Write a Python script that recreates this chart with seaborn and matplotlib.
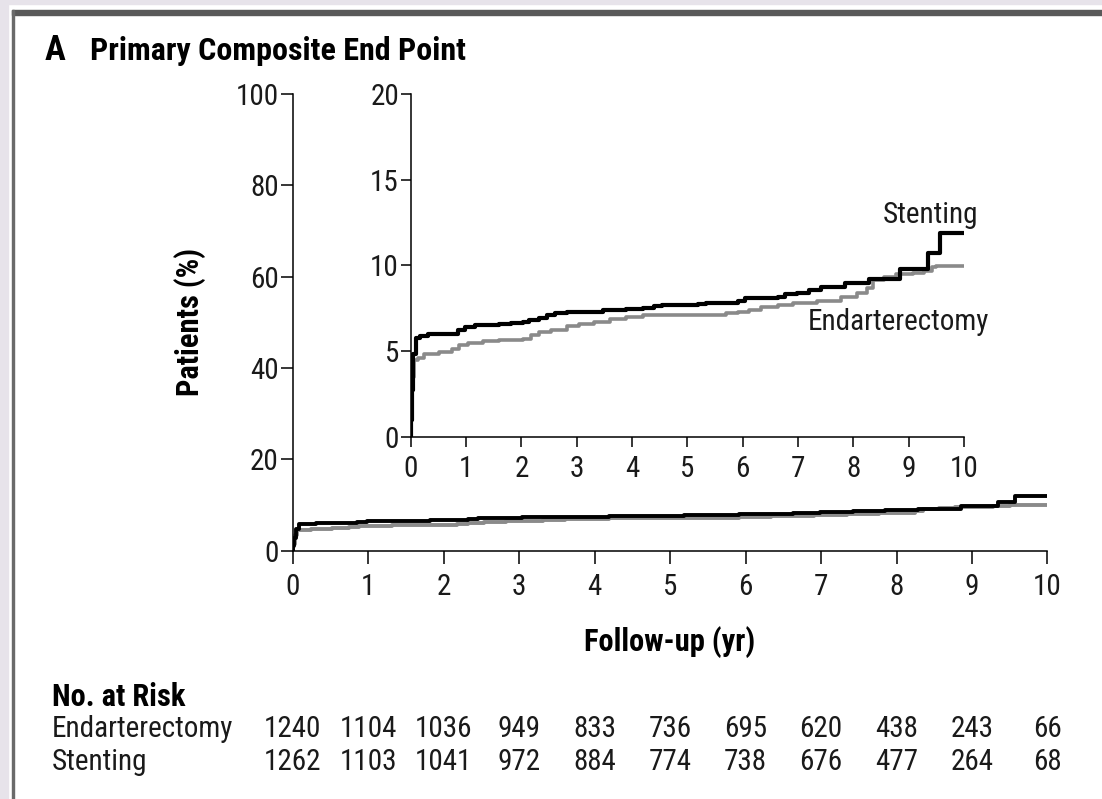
import matplotlib
matplotlib.use("Agg")
import matplotlib.pyplot as plt
import matplotlib.font_manager as fm
from matplotlib.patches import Rectangle
from matplotlib.transforms import blended_transform_factory
import seaborn as sns
import pandas as pd

# ---------------- data ----------------
stent_t = [0, 0.005, 0.02, 0.05, 0.09, 0.17, 0.31, 0.85, 0.99, 1.17,
           1.6, 1.82, 2.03, 2.14, 2.32, 2.46, 2.6, 2.82, 3.04, 3.47,
           3.9, 4.19, 4.4, 4.54, 5.19, 5.33, 5.91, 6.05, 6.63, 6.77,
           6.98, 7.2, 7.42, 7.85, 8.28, 8.85, 9.35, 9.57, 10.0]
stent_v = [0, 1.0, 2.7, 4.8, 5.75, 5.86, 6.0, 6.25, 6.4, 6.5,
           6.56, 6.64, 6.7, 6.8, 6.93, 7.09, 7.19, 7.25, 7.29, 7.38,
           7.44, 7.52, 7.62, 7.68, 7.73, 7.81, 7.93, 8.07, 8.16, 8.3,
           8.4, 8.55, 8.71, 8.95, 9.2, 9.8, 10.7, 11.9, 11.9]

endart_t = [0, 0.01, 0.03, 0.06, 0.13, 0.24, 0.52, 0.74, 0.88, 1.03,
            1.31, 1.6, 2.03, 2.18, 2.32, 2.53, 2.82, 3.04, 3.32, 3.61,
            3.9, 4.19, 5.69, 5.91, 6.12, 6.34, 6.63, 6.91, 7.34, 7.77,
            8.06, 8.24, 8.35, 8.56, 8.78, 9.07, 9.28, 9.43, 9.5, 10.0]
endart_v = [0, 1.5, 3.5, 4.45, 4.6, 4.8, 4.94, 5.14, 5.33, 5.47,
            5.57, 5.63, 5.72, 5.92, 6.11, 6.25, 6.45, 6.56, 6.7, 6.89,
            6.99, 7.09, 7.19, 7.29, 7.42, 7.58, 7.68, 7.81, 7.93, 8.16,
            8.36, 8.65, 9.14, 9.34, 9.49, 9.57, 9.69, 9.88, 9.96, 9.96]

years = [0, 1, 2, 3, 4, 5, 6, 7, 8, 9, 10]
risk_endart = [1240, 1104, 1036, 949, 833, 736, 695, 620, 438, 243, 66]
risk_stent = [1262, 1103, 1041, 972, 884, 774, 738, 676, 477, 264, 68]
main_yticks = [0, 20, 40, 60, 80, 100]
inset_yticks = [0, 5, 10, 15, 20]

title_letter = "A"
title_text = "Primary Composite End Point"
ylabel = "Patients (%)"
xlabel = "Follow-up (yr)"

# ---------------- font choice (prefer a condensed face) ----------------
sns.set_theme(style="ticks")
entries = fm.fontManager.ttflist
names = {f.name for f in entries}
FAMILY, STRETCH = None, "normal"
for cand in ["Liberation Sans Narrow", "Roboto Condensed", "Open Sans Condensed",
             "Noto Sans Condensed", "Arial Narrow"]:
    if cand in names:
        FAMILY = cand
        break
if FAMILY is None:
    for fam in ["DejaVu Sans", "Noto Sans", "Open Sans", "Roboto"]:
        if any(f.name == fam and str(f.stretch) in ("condensed", "semi-condensed")
               for f in entries):
            FAMILY, STRETCH = fam, "condensed"
            break
if FAMILY is None:
    FAMILY = "Lato" if "Lato" in names else "DejaVu Sans"
plt.rcParams["font.family"] = [FAMILY, "DejaVu Sans"]
plt.rcParams["font.stretch"] = STRETCH
plt.rcParams["axes.linewidth"] = 1.1

BLACK = "#000000"
GRAY = "#8a8a8a"
TXT = "#1a1a1a"
FS = 21
FSB = 22

W, H = 1102, 799
fig = plt.figure(figsize=(W / 100, H / 100), dpi=100, facecolor="white")

# decorative frame
fig.patches.append(Rectangle((0, 0), 8 / W, 1, transform=fig.transFigure,
                             color="#e7e3ea", zorder=-10))
fig.patches.append(Rectangle((0, 1 - 4 / H), 1, 4 / H, transform=fig.transFigure,
                             color="#e7e3ea", zorder=-10))
fig.patches.append(Rectangle((12 / W, 1 - 15 / H), 1, 5 / H, transform=fig.transFigure,
                             color="#595959", zorder=-5))
fig.patches.append(Rectangle((12 / W, 0), 2.2 / W, 1 - 10 / H, transform=fig.transFigure,
                             color="#6a6a6a", zorder=-5))

df_s = pd.DataFrame({"t": stent_t, "v": stent_v})
df_e = pd.DataFrame({"t": endart_t, "v": endart_v})

def style_axes(ax, tick_len, label_size):
    sns.despine(ax=ax)
    for s in ("left", "bottom"):
        ax.spines[s].set_color("black")
        ax.spines[s].set_linewidth(1.1)
    ax.tick_params(axis="both", direction="out", length=tick_len, width=1.1,
                   color="black", labelsize=label_size, labelcolor=TXT)
    ax.tick_params(axis="y", pad=1.0)
    ax.tick_params(axis="x", pad=7)
    ax.set_xlabel("")
    ax.set_ylabel("")
    ax.grid(False)
    ax.set_facecolor("none")

# ---------------- main axes ----------------
ax = fig.add_axes([292.7 / W, 1 - 550.7 / H, (1047.5 - 292.7) / W, (550.7 - 94) / H])
sns.lineplot(data=df_e, x="t", y="v", ax=ax, color=GRAY, lw=2.8,
             drawstyle="steps-post", estimator=None)
sns.lineplot(data=df_s, x="t", y="v", ax=ax, color=BLACK, lw=2.8,
             drawstyle="steps-post", estimator=None)
ax.set_xlim(0, 10)
ax.set_ylim(0, 100)
ax.set_xticks(years)
ax.set_yticks(main_yticks)
style_axes(ax, 9, FS)

# ---------------- inset ----------------
axi = fig.add_axes([410.7 / W, 1 - 436.7 / H, (964 - 410.7) / W, (436.7 - 94) / H])
sns.lineplot(data=df_e, x="t", y="v", ax=axi, color=GRAY, lw=2.6,
             drawstyle="steps-post", estimator=None)
sns.lineplot(data=df_s, x="t", y="v", ax=axi, color=BLACK, lw=3.0,
             drawstyle="steps-post", estimator=None)
axi.set_xlim(0, 10)
axi.set_ylim(0, 20)
axi.set_xticks(years)
axi.set_yticks(inset_yticks)
style_axes(axi, 7.5, FS)
axi.tick_params(axis="x", pad=6)
axi.text(9.39, 12.95, "Stenting", ha="center", va="center", fontsize=FS, color=TXT)
axi.text(8.81, 6.7, "Endarterectomy", ha="center", va="center", fontsize=FS, color=TXT)

# ---------------- labels ----------------
fig.text(45 / W, 1 - 50 / H, title_letter, ha="left", va="center",
         fontsize=25, fontweight="bold", color="black")
fig.text(90 / W, 1 - 51 / H, title_text, ha="left", va="center",
         fontsize=23, fontweight="bold", color="black")
fig.text(190 / W, 1 - 322 / H, ylabel, rotation=90, ha="center", va="center",
         fontsize=FSB, fontweight="bold", color="black")
fig.text(670 / W, 1 - 642 / H, xlabel, ha="center", va="center",
         fontsize=FSB, fontweight="bold", color="black")

# ---------------- number at risk ----------------
fig.text(52 / W, 1 - 697 / H, "No. at Risk", ha="left", va="center",
         fontsize=FSB, fontweight="bold", color="black")
fig.text(52 / W, 1 - 729 / H, "Endarterectomy", ha="left", va="center",
         fontsize=FS, color=TXT)
fig.text(52 / W, 1 - 762 / H, "Stenting", ha="left", va="center",
         fontsize=FS, color=TXT)
trans = blended_transform_factory(ax.transData, fig.transFigure)
for yr, n_e, n_s in zip(years, risk_endart, risk_stent):
    ax.text(yr, 1 - 729 / H, str(n_e), transform=trans, ha="center", va="center",
            fontsize=FS, color=TXT, clip_on=False)
    ax.text(yr, 1 - 762 / H, str(n_s), transform=trans, ha="center", va="center",
            fontsize=FS, color=TXT, clip_on=False)

fig.savefig("out.png", dpi=100, facecolor="white")
